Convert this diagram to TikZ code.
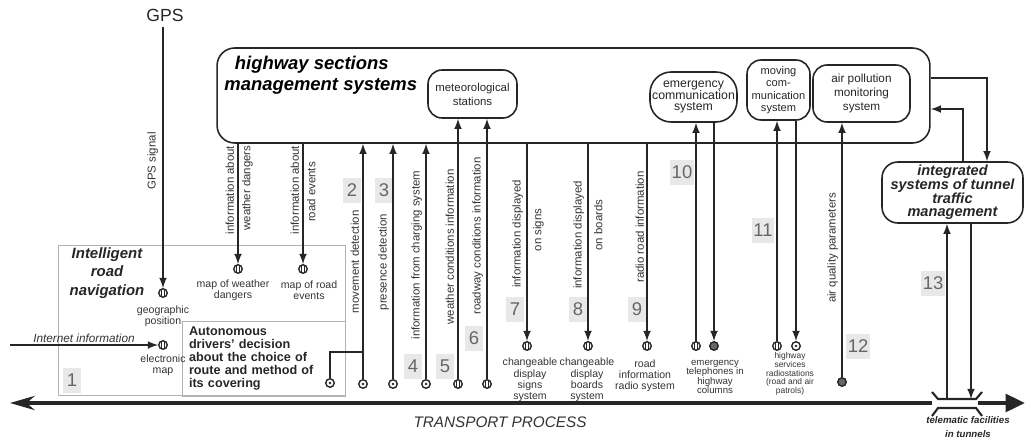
\documentclass[tikz,border=0pt]{standalone}
\usepackage{fontspec}
\setmainfont{Liberation Sans}
\usetikzlibrary{arrows.meta,calc}
\newcommand{\fsz}[2]{\fontsize{#1}{#2}\selectfont}

\begin{document}
\begin{tikzpicture}[x=0.02cm,y=-0.02cm,>=latex,
  line/.style={draw=black!85,line width=1pt},
  box/.style={draw=black!85,line width=0.9pt,rounded corners=8pt,align=center,inner sep=1pt,text=black!85},
  vlab/.style={rotate=90,font=\fsz{6.5}{7},inner sep=1pt,text=black!80},
  clab/.style={font=\fsz{6}{6.4},align=center,inner sep=0pt,text=black!80},
  num/.style={fill=gray!18,text=black!60,font=\fsz{10.5}{10.5},minimum width=0.36cm,minimum height=0.5cm,inner sep=1pt},
  dev/.style={circle,draw=black!85,line width=0.8pt,minimum size=0.17cm,inner sep=0pt},
  ddot/.style={dev,path picture={\fill[black!85] (path picture bounding box.center) circle (0.8pt);}},
  dbar/.style={dev,path picture={
    \draw[black!85,line width=0.5pt]
      ([xshift=-0.8pt]path picture bounding box.north) -- ([xshift=-0.8pt]path picture bounding box.south)
      ([xshift=0.8pt]path picture bounding box.north) -- ([xshift=0.8pt]path picture bounding box.south);}},
  dfill/.style={dev,fill=black!60}]
\useasboundingbox (0,0) rectangle (1031,443);

% management systems
\node[box,rounded corners=10pt,minimum width=14.26cm,minimum height=1.9cm] (hsms) at (573.5,95.5) {};
\node[font=\bfseries\itshape\fsz{10.5}{12},align=left,anchor=north west,inner sep=0pt] (hsmslab) at (224,56) {\hspace{6pt}highway sections\\management systems};
\node[box,minimum width=1.78cm,minimum height=0.96cm,font=\fsz{6.5}{8}] (met) at (472.5,94) {meteorological\\stations};
\node[box,rounded corners=12pt,minimum width=1.74cm,minimum height=1.0cm,font=\fsz{7}{6.8}] (emerg) at (693.5,97) {emergency\\communication\\system};
\node[box,minimum width=1.26cm,minimum height=1.2cm,font=\fsz{6.3}{7}] (mov) at (778.5,90) {moving\\com-\\munication\\system};
\node[box,minimum width=1.94cm,minimum height=1.14cm,font=\fsz{6.7}{8}] (air) at (861.5,93.5) {air pollution\\monitoring\\system};
\node[box,rounded corners=9pt,minimum width=2.82cm,minimum height=1.22cm,font=\bfseries\itshape\fsz{8.3}{7.8}] (integ) at (952.5,192.5) {integrated\\systems of tunnel\\traffic\\management};

% navigation
\node[draw=gray!60,line width=0.5pt,minimum width=5.74cm,minimum height=3.0cm] (nav) at (201.5,320) {};
\node[font=\bfseries\itshape\fsz{8.5}{10.5},align=center,text=black!85] (navlab) at (107,273) {Intelligent\\road\\navigation};
\node[draw=gray!60,line width=0.5pt,minimum width=3.26cm,minimum height=1.46cm,text width=2.98cm,inner xsep=0.14cm,align=left,font=\bfseries\fsz{7.2}{7.4},text=black!85] (auto) at (263.5,358.5) {Autonomous\\drivers' decision\\about the choice of\\route and method of\\its covering};

% devices
\node[dbar] (gpos) at (163,293) {};
\node[dbar] (emap) at (163,345) {};
\node[dbar] (mwd) at (238,269) {};
\node[dbar] (mre) at (303,269) {};
\node[ddot] (c1) at (330,383) {};
\foreach \n/\x in {2/363,3/393,4/426} \node[ddot] (c\n) at (\x,384) {};
\foreach \n/\x in {5/458,6/487} \node[dbar] (c\n) at (\x,384) {};
\foreach \n/\x in {7/527,8/588,9/647} \node[dbar] (c\n) at (\x,346) {};
\node[dbar] (c10a) at (696,346) {};
\node[dfill] (c10b) at (714,346) {};
\node[dbar] (c11a) at (777,346) {};
\node[ddot] (c11b) at (796,346) {};
\node[dfill] (c12) at (842,382) {};

\node[clab] (gposlab) at (163,316) {geographic\\position};
\node[clab] (emaplab) at (163,365) {electronic\\map};
\node[clab] (mwdlab) at (233,290) {map of weather\\dangers};
\node[clab] (mrelab) at (309,290) {map of road\\events};
\node[clab] (c7lab) at (530,380) {changeable\\display\\signs\\system};
\node[clab] (c8lab) at (587,380) {changeable\\display\\boards\\system};
\node[clab] (c9lab) at (645,376) {road\\information\\radio system};
\node[clab,font=\fsz{5.5}{5.4}] (c10lab) at (715,377) {emergency\\telephones in\\highway\\columns};
\node[clab,font=\fsz{4.8}{5}] (c11lab) at (790,374) {highway\\services\\radiostations\\(road and air\\patrols)};

% numbers
\foreach \n/\x/\y in {1/72/380,2/352/190,3/384/190,4/413/366,5/445/366,6/474/338,7/515/309,
  8/578/309,9/637/309,10/682/172,11/763/230,12/858/346,13/933/283}
  \node[num] (n\n) at (\x,\y) {\n};

% GPS and internet
\node[font=\fsz{10}{10},text=black!85] (gps) at (165,15) {GPS};
\draw[line,->] (gps.south -| gpos) -- (gpos);
\node[vlab,anchor=south] (lgps) at (160,161) {GPS signal};
\coordinate (inet) at (10,345);
\draw[line,->] (inet) -- (emap);
\node[font=\itshape\fsz{6.7}{7},anchor=south,text=black!80,inner sep=1pt] (inetlab) at (84,345) {Internet information};

% flows to and from the management systems
\draw[line,->] (mwd |- hsms.south) -- (mwd);
\draw[line,->] (mre |- hsms.south) -- (mre);
\foreach \n in {2,3,4} \draw[line,->] (c\n) -- (c\n |- hsms.south);
\foreach \n in {5,6} \draw[line,->] (c\n) -- (c\n |- met.south);
\foreach \n in {7,8,9} \draw[line,->] (c\n |- hsms.south) -- (c\n);
\draw[line,->] (c10a) -- (c10a |- emerg.south);
\draw[line,->] (c10b |- emerg.south) -- (c10b);
\draw[line,->] (c11a) -- (c11a |- mov.south);
\draw[line,->] (c11b |- mov.south) -- (c11b);
\draw[line,->] (c12) -- (c12 |- air.south);
\coordinate (j2) at (363,352);
\draw[line] (c1) |- (j2);

\node[vlab,anchor=south] (l1a) at (236,190) {information about};
\node[vlab,anchor=north] (l1b) at (240,188) {weather dangers};
\node[vlab,anchor=south] (l2a) at (301,190) {information about};
\node[vlab,anchor=north] (l2b) at (305,192) {road events};
\node[vlab,anchor=south] (l3) at (361,262) {movement detection};
\node[vlab,anchor=south] (l4) at (391,262) {presence detection};
\node[vlab,anchor=south] (l5) at (424,255) {information from charging system};
\node[vlab,anchor=south] (l6) at (456,247) {weather conditions information};
\node[vlab,anchor=south] (l7) at (485,236) {roadway conditions information};
\node[vlab,anchor=south] (l8a) at (525,234) {information displayed};
\node[vlab,anchor=north] (l8b) at (531,230) {on signs};
\node[vlab,anchor=south] (l9a) at (586,235) {information displayed};
\node[vlab,anchor=north] (l9b) at (592,225) {on boards};
\node[vlab,anchor=south] (l10) at (646,227) {radio road information};
\node[vlab,anchor=south] (l11) at (840,248) {air quality parameters};

% tunnel management
\coordinate (rt1) at (987,78);
\coordinate (rt2) at (963,109);
\draw[line,->] (hsms.east |- rt1) -| (integ.north -| rt1);
\draw[line,->] (integ.north -| rt2) |- (hsms.east |- rt2);

% transport process
\coordinate (tl) at (10,403);
\coordinate (tr) at (1025,403);
\coordinate (tun) at (957,403);
\draw[black!85,line width=2.2pt,{Stealth[length=14pt,width=8pt]}-] (tl) -- ($(tun)+(-25,0)$);
\draw[black!85,line width=2.2pt,-{Triangle[length=11pt,width=10pt]}] ($(tun)+(21,0)$) -- (tr);
\draw[line,line width=1.2pt,shift={(tun)}] (-25,-11) -- (-19,-4) -- (19,-4) -- (25,-11)
  (-25,13) -- (-19,5) -- (19,5) -- (25,13);
\coordinate (t13a) at (947,399);
\coordinate (t13b) at (971,399);
\draw[line,->] (t13a) -- (t13a |- integ.south);
\draw[line,->] (t13b |- integ.south) -- (t13b);
\node[font=\itshape\fsz{8.7}{9},text=black!80] (tp) at (500,422) {TRANSPORT PROCESS};
\node[font=\bfseries\itshape\fsz{5.5}{7.5},align=center,text=black!85] (tel) at (968,427) {telematic facilities\\in tunnels};
\end{tikzpicture}
\end{document}
